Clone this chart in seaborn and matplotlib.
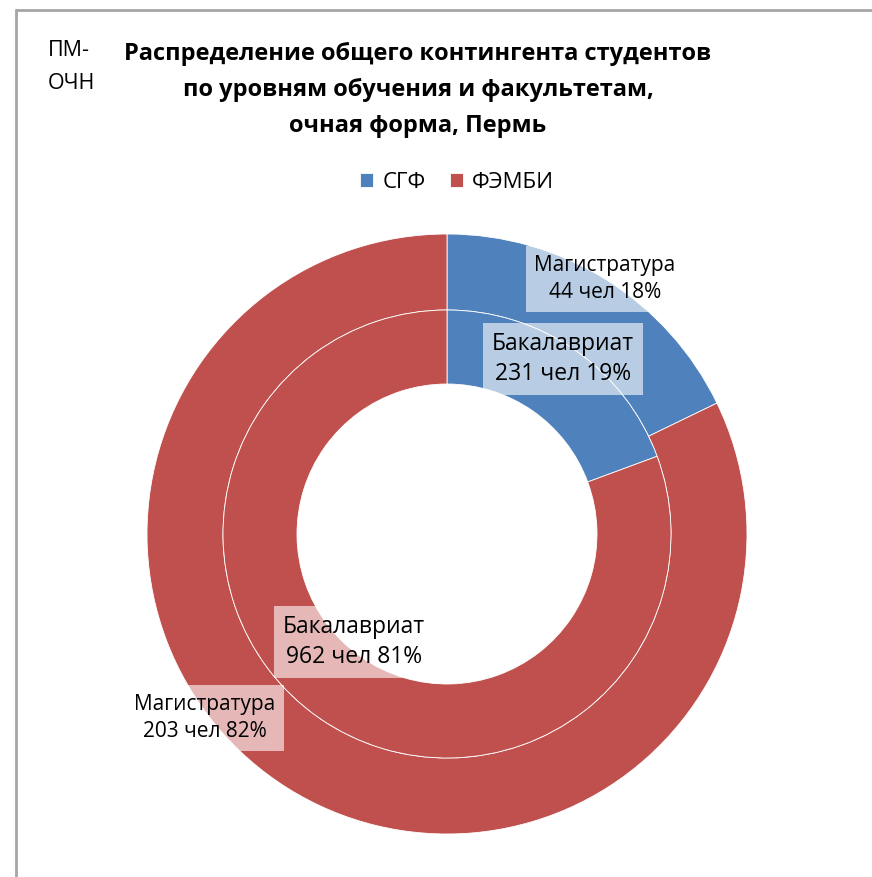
import matplotlib
matplotlib.use("Agg")
import matplotlib.pyplot as plt
from matplotlib.lines import Line2D
import seaborn as sns

# данные диаграммы
faculties = ["СГФ", "ФЭМБИ"]
magistr = [44, 203]
bakalavr = [231, 962]
magistr_pct = ["18%", "82%"]
bakalavr_pct = ["19%", "81%"]
colors = ["#4F81BD", "#C0504D"]

title = "Распределение общего контингента студентов\nпо уровням обучения и факультетам,\nочная форма, Пермь"
corner_text = "ПМ-\nОЧН"

W, H = 872, 877
CX, CY, R = 447, 534, 300

sns.set_theme(style="white")
plt.rcParams["font.family"] = ["Open Sans", "DejaVu Sans"]
plt.rcParams["text.color"] = "black"

fig = plt.figure(figsize=(W / 100, H / 100), dpi=100)
fig.patch.set_facecolor("white")

ax = fig.add_axes([(CX - R) / W, (H - CY - R) / H, 2 * R / W, 2 * R / H])
ax.set_aspect("equal")

r_mid = 224 / R
r_hole = 150 / R

outer, _ = ax.pie(magistr, radius=1.0, colors=colors, startangle=90, counterclock=False,
                  wedgeprops=dict(width=1.0 - r_mid, edgecolor="white", linewidth=0.6))
inner, _ = ax.pie(bakalavr, radius=r_mid, colors=colors, startangle=90, counterclock=False,
                  wedgeprops=dict(width=r_mid - r_hole, edgecolor="white", linewidth=0.6))
ax.set_xlim(-1, 1)
ax.set_ylim(-1, 1)
ax.axis("off")


def px2data(px, py):
    return (px - CX) / R, (CY - py) / R


# подписи: (x, y) в пикселях центра текста, размер шрифта
labels = [
    ("Магистратура\n%d чел %s" % (magistr[0], magistr_pct[0]), 605, 279, 15, 1.4),
    ("Бакалавриат\n%d чел %s" % (bakalavr[0], bakalavr_pct[0]), 563, 359, 16.5, 1.35),
    ("Бакалавриат\n%d чел %s" % (bakalavr[1], bakalavr_pct[1]), 354, 642, 16.5, 1.35),
    ("Магистратура\n%d чел %s" % (magistr[1], magistr_pct[1]), 205, 718, 15, 1.4),
]
for txt, px, py, fs, ls in labels:
    x, y = px2data(px, py)
    ax.text(x, y, txt, ha="center", va="center", fontsize=fs, color="black",
            linespacing=ls,
            bbox=dict(boxstyle="square,pad=0.4", fc="white", ec="none", alpha=0.6))

fig.text(418 / W, 1 - 90 / H, title, ha="center", va="center", fontsize=17,
         fontweight="bold", linespacing=1.68)
fig.text(48 / W, 1 - 67 / H, corner_text, ha="left", va="center", fontsize=15.5,
         linespacing=1.75)

fig.legend(handles=outer, labels=faculties, loc="center", bbox_to_anchor=(457 / W, 1 - 182 / H),
           ncol=2, frameon=False, fontsize=16, handlelength=0.6, handleheight=0.6,
           handletextpad=0.4, columnspacing=1.1)

# рамка области диаграммы
fig.add_artist(Line2D([16 / W, 16 / W], [0, 1 - 10 / H], color="#A6A6A6", lw=2))
fig.add_artist(Line2D([16 / W, 1], [1 - 10 / H, 1 - 10 / H], color="#A6A6A6", lw=2))

fig.savefig("out.png", dpi=100, facecolor="white")
